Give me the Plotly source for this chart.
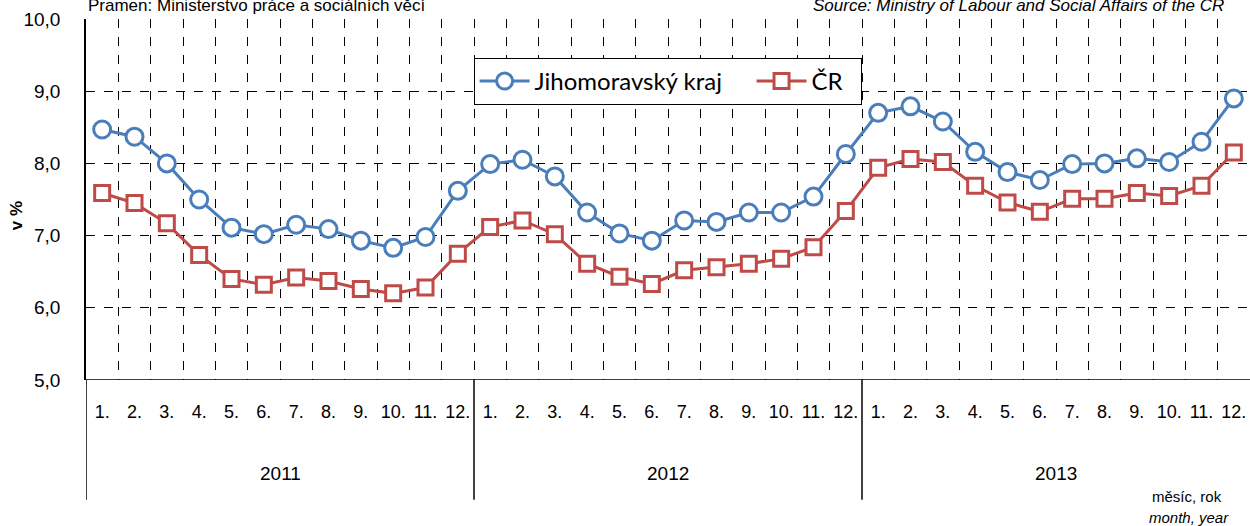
import plotly.graph_objects as go

months = ["1.", "2.", "3.", "4.", "5.", "6.", "7.", "8.", "9.", "10.", "11.", "12."]
years = ["2011", "2012", "2013"]

jmk = [8.47, 8.37, 8.00, 7.50, 7.11, 7.02, 7.15, 7.09, 6.93, 6.83, 6.98, 7.62,
       7.99, 8.05, 7.82, 7.32, 7.03, 6.93, 7.21, 7.19, 7.32, 7.32, 7.54, 8.13,
       8.70, 8.79, 8.58, 8.16, 7.88, 7.77, 7.99, 8.00, 8.07, 8.02, 8.30, 8.90]
cr = [7.59, 7.45, 7.17, 6.73, 6.40, 6.32, 6.42, 6.37, 6.26, 6.20, 6.28, 6.75,
      7.12, 7.21, 7.02, 6.61, 6.43, 6.33, 6.52, 6.56, 6.61, 6.68, 6.84, 7.34,
      7.94, 8.06, 8.02, 7.69, 7.46, 7.33, 7.51, 7.51, 7.59, 7.55, 7.69, 8.15]

n = len(years) * len(months)
xs = list(range(n))
ticktext = [m for _ in years for m in months]

BLUE = "#4A7EBB"
RED = "#BE4B48"
FONT = "Liberation Sans, Arial, sans-serif"

fig = go.Figure()
fig.add_trace(go.Scatter(
    x=xs, y=jmk, mode="lines+markers", name="Jihomoravský kraj\u00a0\u00a0\u00a0\u00a0",
    line=dict(color=BLUE, width=3),
    marker=dict(symbol="circle", size=17, color="white", line=dict(color=BLUE, width=3)),
))
fig.add_trace(go.Scatter(
    x=xs, y=cr, mode="lines+markers", name="ČR\u00a0\u00a0",
    line=dict(color=RED, width=3),
    marker=dict(symbol="square", size=15, color="white", line=dict(color=RED, width=3)),
))

shapes = []
for k in range(0, len(years)):
    b = k * len(months) - 0.5
    shapes.append(dict(type="line", xref="x", yref="paper", x0=b, x1=b, y0=0, y1=-0.332,
                       line=dict(color="black", width=1.5)))
shapes.append(dict(type="line", xref="paper", yref="y", x0=0, x1=1, y0=5, y1=5,
                   line=dict(color="black", width=1.5)))

annotations = []
for k, yr in enumerate(years):
    cx = k * len(months) + (len(months) - 1) / 2
    annotations.append(dict(text=yr, x=cx, xref="x", xanchor="center", y=-0.258, yref="paper",
                            yanchor="middle", showarrow=False,
                            font=dict(size=19, color="black", family=FONT)))
annotations += [
    dict(text="<b>v %</b>", x=-0.060, y=0.454, xref="paper", yref="paper", textangle=-90,
         xanchor="center", yanchor="middle",
         showarrow=False, font=dict(size=17, color="black", family=FONT)),
    dict(text="Pramen: Ministerstvo práce a sociálních věcí", x=0.0, xref="paper", xanchor="left",
         y=1.005, yref="paper", yanchor="bottom", showarrow=False,
         font=dict(size=17, color="black", family=FONT)),
    dict(text="<i>Source: Ministry of Labour and Social Affairs of the CR</i>", x=0.979, xref="paper",
         xanchor="right", y=1.005, yref="paper", yanchor="bottom", showarrow=False,
         font=dict(size=17, color="black", family=FONT)),
    dict(text="měsíc, rok", x=0.978, xref="paper", xanchor="right", y=-0.324, yref="paper",
         yanchor="middle", showarrow=False, font=dict(size=15, color="black", family=FONT)),
    dict(text="<i>month, year</i>", x=0.984, xref="paper", xanchor="right", y=-0.382, yref="paper",
         yanchor="middle", showarrow=False, font=dict(size=15, color="black", family=FONT)),
]

fig.update_layout(
    width=1250, height=526,
    margin=dict(l=86, r=0, t=19, b=146, autoexpand=False),
    paper_bgcolor="white", plot_bgcolor="white",
    separators=", ",
    font=dict(family=FONT, size=18, color="black"),
    showlegend=True,
    legend=dict(orientation="h", x=0.333, y=0.892, xanchor="left", yanchor="top",
                bgcolor="white", bordercolor="black", borderwidth=1,
                font=dict(family="Lato, Open Sans, sans-serif", size=24, color="black"),
                itemwidth=50, tracegroupgap=0),
    xaxis=dict(
        range=[-0.5, n - 0.5], tickmode="array", tickvals=xs, ticktext=ticktext,
        showgrid=False, zeroline=False, showline=False, ticks="",
        ticklabelstandoff=19, automargin=False,
        tickfont=dict(size=18, family=FONT),
        minor=dict(tickmode="array", tickvals=[i + 0.5 for i in xs], showgrid=True,
                   gridcolor="black", griddash="dash", gridwidth=1),
        fixedrange=True,
    ),
    yaxis=dict(
        range=[5, 10], dtick=1, tickformat=".1f", showgrid=True, gridcolor="black",
        griddash="dash", gridwidth=1, zeroline=False, showline=True, linecolor="black",
        linewidth=1.5, ticks="", ticklabelstandoff=20, automargin=False,
        tickfont=dict(size=19, family=FONT),
        fixedrange=True,
    ),
    shapes=shapes,
    annotations=annotations,
)

fig.write_html("out.html", config={"displayModeBar": False},
               post_script="document.body.style.margin='0';document.body.style.overflow='hidden';")
